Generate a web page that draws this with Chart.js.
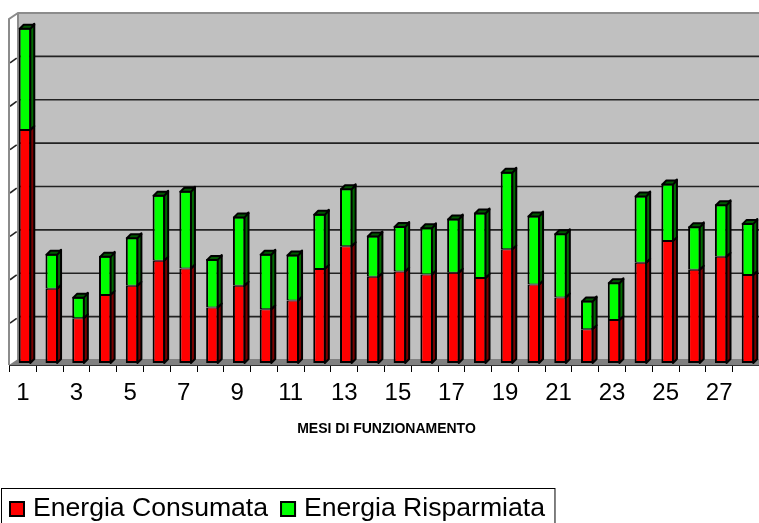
<!DOCTYPE html>
<html>
<head>
<meta charset="utf-8">
<script src="https://cdn.jsdelivr.net/npm/chart.js@4.4.1/dist/chart.umd.min.js"></script>
<style>
html,body{margin:0;padding:0;overflow:hidden;background:#fff;}
#wrap{width:764px;height:523px;position:relative;}
</style>
</head>
<body>
<div id="wrap"><canvas id="c"></canvas></div>
<script>
// ---- data (unit = one gridline step) ----
const months = ['1','2','3','4','5','6','7','8','9','10','11','12','13','14','15','16','17','18','19','20','21','22','23','24','25','26','27','28'];
const energiaConsumata = [5.37,1.71,1.03,1.57,1.78,2.36,2.18,1.28,1.78,1.24,1.44,2.17,2.69,1.99,2.11,2.04,2.08,1.96,2.62,1.81,1.51,0.78,0.99,2.31,2.81,2.15,2.45,2.03];
const energiaRisparmiata = [2.36,0.81,0.50,0.90,1.12,1.52,1.79,1.12,1.60,1.28,1.06,1.27,1.34,0.95,1.05,1.09,1.25,1.51,1.79,1.59,1.48,0.66,0.87,1.55,1.33,1.00,1.21,1.20];
const seriesNames = ['Energia Consumata','Energia Risparmiata'];
const axisTitle = 'MESI DI FUNZIONAMENTO';
const yMax = 8;

const FONT = '"Liberation Sans", Arial, sans-serif';
const DEPTH = 4;      // bar 3D depth (px)
const BACK = 3;       // back wall offset behind bars

const sideColors = ['#7a0000', '#006a00'];
const topColors  = ['#a00000', '#005a00'];

const wall3d = {
  id: 'wall3d',
  beforeDatasetsDraw(chart) {
    const {ctx, chartArea: a, scales: {x, y}} = chart;
    const wallL = a.left + 6.4, frontL = a.left - 2.6;
    const right = chart.width;
    const top = y.getPixelForValue(yMax) - BACK;
    const base = y.getPixelForValue(0) - BACK;
    ctx.save();
    ctx.fillStyle = '#c0c0c0';
    ctx.fillRect(wallL, top, right - wallL, base - top);
    ctx.strokeStyle = '#222';
    ctx.lineWidth = 1.6;
    for (let v = 1; v < yMax; v++) {
      const py = y.getPixelForValue(v) - BACK;
      ctx.beginPath(); ctx.moveTo(wallL, py); ctx.lineTo(right, py); ctx.stroke();
      ctx.beginPath(); ctx.moveTo(frontL + 1, py + 6.5); ctx.lineTo(wallL - 1.3, py + 1.7); ctx.stroke();
    }
    ctx.strokeStyle = '#8c8c8c';
    ctx.lineWidth = 2;
    ctx.beginPath();
    ctx.moveTo(frontL, base + 5); ctx.lineTo(frontL, top + 6);
    ctx.lineTo(wallL, top); ctx.lineTo(right, top);
    ctx.moveTo(wallL, top); ctx.lineTo(wallL, base);
    ctx.stroke();
    ctx.fillStyle = '#808080';
    ctx.beginPath();
    ctx.moveTo(wallL, base - 1); ctx.lineTo(right, base - 1);
    ctx.lineTo(right, base + 5); ctx.lineTo(frontL, base + 5);
    ctx.closePath(); ctx.fill();
    ctx.strokeStyle = '#333'; ctx.lineWidth = 1;
    ctx.beginPath(); ctx.moveTo(frontL, base + 5.5); ctx.lineTo(right, base + 5.5); ctx.stroke();
    ctx.strokeStyle = '#000'; ctx.lineWidth = 1;
    const n = chart.data.labels.length;
    const step = (a.right - a.left) / n;
    for (let i = 0; i <= n; i++) {
      const px = Math.round(a.left + i * step - 2.5) + 0.5;
      ctx.beginPath(); ctx.moveTo(px, base + 6); ctx.lineTo(px, base + 12); ctx.stroke();
    }
    ctx.restore();
  },
  afterDatasetsDraw(chart) {
    const {ctx} = chart;
    ctx.save();
    ctx.strokeStyle = '#000';
    ctx.lineWidth = 2;
    ctx.lineJoin = 'round';
    const nDs = chart.data.datasets.length;
    chart.data.datasets.forEach((ds, di) => {
      const meta = chart.getDatasetMeta(di);
      meta.data.forEach(bar => {
        const {x, y, base, width} = bar.getProps(['x','y','base','width'], true);
        const r = x + width / 2 - 1;
        const t = Math.min(y, base), b = Math.max(y, base);
        ctx.fillStyle = sideColors[di];
        ctx.beginPath();
        ctx.moveTo(r, b); ctx.lineTo(r + DEPTH, b - DEPTH);
        ctx.lineTo(r + DEPTH, t - DEPTH); ctx.lineTo(r, t);
        ctx.closePath(); ctx.fill(); ctx.stroke();
        if (di === nDs - 1) {
          const l = x - width / 2 + 1;
          ctx.fillStyle = topColors[di];
          ctx.beginPath();
          ctx.moveTo(l, t + 1); ctx.lineTo(l + DEPTH, t + 1 - DEPTH);
          ctx.lineTo(r + DEPTH, t + 1 - DEPTH); ctx.lineTo(r, t + 1);
          ctx.closePath(); ctx.fill(); ctx.stroke();
        }
      });
    });
    ctx.restore();
  },
  afterDraw(chart) {
    const {ctx} = chart;
    ctx.save();
    ctx.font = '26.6px ' + FONT;
    ctx.textBaseline = 'alphabetic';
    let x0 = 9;
    const boxTop = 501, boxSize = 16, baseline = 516;
    chart.data.datasets.forEach(ds => {
      ctx.fillStyle = ds.backgroundColor;
      ctx.fillRect(x0, boxTop, boxSize, boxSize);
      ctx.strokeStyle = '#000'; ctx.lineWidth = 2;
      ctx.strokeRect(x0 + 1, boxTop + 1, boxSize - 2, boxSize - 2);
      ctx.fillStyle = '#000';
      ctx.fillText(ds.label, x0 + 24, baseline);
      x0 += 24 + ctx.measureText(ds.label).width + 12;
    });
    ctx.strokeStyle = '#000'; ctx.lineWidth = 1;
    ctx.strokeRect(1.5, 488.5, x0 - 12 + 10 - 1.5, 60);
    ctx.restore();
  }
};

new Chart(document.getElementById('c'), {
  type: 'bar',
  data: {
    labels: months,
    datasets: [
      {label: seriesNames[0], data: energiaConsumata, backgroundColor: '#ff0000', borderColor: '#000',
       borderWidth: {left: 2, right: 2, bottom: 2, top: 1}, borderSkipped: false},
      {label: seriesNames[1], data: energiaRisparmiata, backgroundColor: '#00ff00', borderColor: '#000',
       borderWidth: {left: 2, right: 2, bottom: 1, top: 2}, borderSkipped: false}
    ]
  },
  options: {
    responsive: true,
    maintainAspectRatio: false,
    animation: false,
    devicePixelRatio: 1,
    layout: {padding: {left: 11.6, right: 0.9, top: 16, bottom: 85.6}},
    datasets: {bar: {barPercentage: 0.47, categoryPercentage: 1}},
    plugins: {legend: {display: false}, tooltip: {enabled: false}},
    scales: {
      x: {
        stacked: true,
        grid: {display: false, drawTicks: false},
        border: {display: false},
        ticks: {
          autoSkip: false, maxRotation: 0, color: '#000', padding: 16, labelOffset: -2,
          font: {size: 24, family: FONT},
          callback(v, i) { return i % 2 === 0 ? this.getLabelForValue(v) : ''; }
        },
        title: {display: true, text: axisTitle, color: '#000', padding: 0,
                font: {size: 14, weight: 'bold', family: FONT}},
        afterFit(s) { s.height = 74.4; }
      },
      y: {stacked: true, display: false, min: 0, max: yMax}
    }
  },
  plugins: [wall3d]
});
</script>
</body>
</html>
